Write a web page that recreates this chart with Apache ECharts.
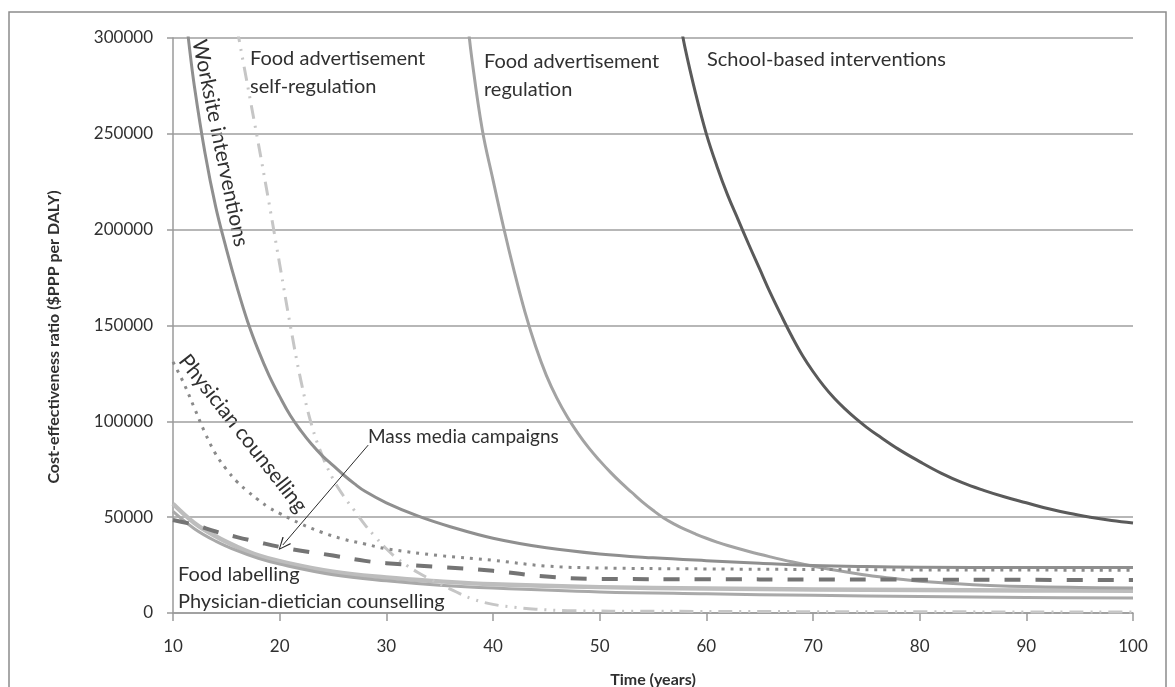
<!DOCTYPE html>
<html>
<head>
<meta charset="utf-8">
<title>Cost-effectiveness ratio over time</title>
<script src="https://cdn.jsdelivr.net/npm/echarts@6/dist/echarts.min.js"></script>
<style>
  html, body { margin: 0; padding: 0; background: #ffffff; }
  #chart { width: 1175px; height: 687px; }
</style>
</head>
<body>
<div id="chart"></div>
<script>
// Time horizon (years) and cost-effectiveness ratio ($PPP per DALY) for each intervention.
const worksiteYears = [11, 11.5, 12, 13, 14, 15, 16, 17, 18, 19, 20, 21, 22, 23, 24, 25, 26, 27, 28, 30, 33, 36, 40, 45, 50, 55, 60, 65, 70, 75, 80, 90, 100];
const worksiteRatio = [322000, 297000, 275000, 240000, 212000, 190000, 170000, 152000, 137000, 124000, 113000, 103000, 95000, 88000, 82000, 77000, 72000, 67500, 63500, 57500, 50500, 45000, 39000, 34000, 30800, 28800, 27300, 26000, 24800, 24200, 23900, 23700, 23700];

const selfRegYears = [16, 17, 18, 19, 20, 21, 22, 23, 24, 25, 26, 27, 28, 29, 30, 31, 32, 33, 34, 36, 38, 40, 42, 44, 47, 55, 70, 100];
const selfRegRatio = [305000, 275000, 245000, 214000, 182000, 150000, 121000, 98000, 82000, 70000, 61000, 53500, 46000, 39500, 33500, 28500, 24500, 21000, 18000, 12500, 7500, 4500, 3000, 2000, 1200, 900, 700, 500];

const adRegYears = [37.6, 38, 39, 40, 41, 42, 43, 44, 45, 46, 47, 48, 49, 50, 51, 52, 53, 54, 55, 56, 57, 58, 59, 60, 61, 62, 64, 66, 68, 70, 72, 74, 76, 78, 80, 85, 90, 95, 100];
const adRegRatio = [310000, 290000, 252000, 226000, 201000, 178000, 157000, 139000, 124000, 112000, 102000, 93500, 86000, 79500, 73500, 68000, 63000, 58000, 53600, 49600, 46400, 43600, 41200, 39000, 37000, 35200, 32100, 29300, 26700, 24400, 22400, 20600, 19000, 17700, 16600, 14800, 13800, 13300, 13000];

const schoolYears = [57.5, 58, 59, 60, 61, 62, 63, 64, 65, 66, 67, 68, 69, 70, 71, 72, 73, 74, 75, 76, 78, 80, 82, 84, 86, 88, 90, 92, 94, 96, 98, 100];
const schoolRatio = [310000, 295000, 271000, 250000, 233000, 218000, 205000, 192000, 179500, 167000, 155500, 144500, 134500, 126000, 118500, 112000, 106500, 101500, 97000, 93000, 85500, 79000, 73000, 68000, 64000, 60500, 57500, 54500, 52000, 50000, 48300, 47000];

const counsellingYears = [10, 11, 12, 13, 14, 15, 16, 17, 18, 19, 20, 22, 24, 26, 28, 30, 35, 40, 45, 50, 60, 70, 80, 90, 100];
const counsellingRatio = [131000, 120000, 107000, 94000, 83000, 75000, 68500, 63500, 59000, 55000, 52000, 46500, 42000, 38500, 36000, 33500, 30000, 27500, 24500, 23500, 23000, 22700, 22500, 22400, 22300];

const massMediaYears = [10, 12, 14, 16, 18, 20, 22, 25, 28, 30, 35, 40, 45, 50, 60, 70, 80, 90, 100];
const massMediaRatio = [48500, 46000, 42500, 39600, 37000, 34500, 32500, 30000, 27200, 26000, 24000, 22000, 19000, 17800, 17600, 17500, 17400, 17300, 17200];

const labellingYears = [10, 12, 14, 16, 18, 20, 25, 30, 35, 40, 50, 60, 70, 80, 90, 100];
const labellingRatio = [57000, 47000, 40000, 34500, 30000, 27000, 21500, 18500, 16500, 15000, 13500, 12800, 12300, 12000, 11800, 11600];

const dieticianYears = [10, 12, 14, 16, 18, 20, 25, 30, 35, 40, 50, 60, 70, 80, 90, 100];
const dieticianRatio = [53000, 44000, 37500, 32500, 28500, 25500, 20000, 16800, 14500, 13000, 11000, 10000, 9200, 8600, 8100, 7800];

// Annotation arrow for the mass media curve: [years, ratio] at tail and head.
const arrowTail = [28.3, 87600];
const arrowHead = [20.3, 35500];

const pairs = (xs, ys) => xs.map((x, i) => [x, ys[i]]);

const FONT = 'Lato, "Open Sans", sans-serif';
const TEXT = '#303030';

function curve(name, years, ratios, color, width, type, extra) {
  return Object.assign({
    name: name,
    type: 'line',
    data: pairs(years, ratios),
    showSymbol: false,
    smooth: 0.4,
    clip: true,
    silent: true,
    lineStyle: { color: color, width: width, type: type, cap: 'butt', join: 'round' },
    itemStyle: { color: color }
  }, extra || {});
}

function label(text, x, y, size, rotationDeg) {
  return {
    type: 'text', silent: true, x: x, y: y,
    rotation: (rotationDeg || 0) * Math.PI / 180,
    style: { text: text, font: size + 'px ' + FONT, fill: TEXT, textAlign: 'left', textVerticalAlign: 'middle' }
  };
}

const chart = echarts.init(document.getElementById('chart'), null, { renderer: 'canvas' });

const option = {
  backgroundColor: '#ffffff',
  animation: false,
  grid: { left: 173, right: 42, top: 38, bottom: 74, containLabel: false, outerBoundsMode: 'none' },
  xAxis: {
    type: 'value',
    min: 10, max: 100, interval: 10,
    name: 'Time (years)',
    nameLocation: 'middle',
    nameGap: 59,
    nameTextStyle: { fontFamily: FONT, fontWeight: 'bold', fontSize: 16, color: TEXT },
    axisLine: { show: true, lineStyle: { color: '#9a9a9a', width: 1.5 } },
    axisTick: { show: true, length: 8, lineStyle: { color: '#9a9a9a', width: 1.5 } },
    axisLabel: { fontFamily: FONT, fontSize: 17, color: TEXT, margin: 25 },
    splitLine: { show: false }
  },
  yAxis: {
    type: 'value',
    min: 0, max: 300000, interval: 50000,
    axisLine: { show: true, lineStyle: { color: '#9a9a9a', width: 1.5 } },
    axisTick: { show: true, length: 6, lineStyle: { color: '#9a9a9a', width: 1.5 } },
    axisLabel: { fontFamily: FONT, fontSize: 17, color: TEXT, margin: 20, formatter: v => String(v) },
    splitLine: { show: true, lineStyle: { color: '#9f9f9f', width: 1.5 } }
  },
  series: [
    curve('Food labelling', labellingYears, labellingRatio, '#bdbdbd', 4.5, 'solid'),
    curve('Physician-dietician counselling', dieticianYears, dieticianRatio, '#a9a9a9', 3, 'solid'),
    curve('Food advertisement self-regulation', selfRegYears, selfRegRatio, '#c6c6c6', 3, [14, 7, 2, 7, 2, 7]),
    curve('Food advertisement regulation', adRegYears, adRegRatio, '#a3a3a3', 3, 'solid'),
    curve('Worksite interventions', worksiteYears, worksiteRatio, '#8f8f8f', 3, 'solid'),
    curve('Physician counselling', counsellingYears, counsellingRatio, '#8a8a8a', 3, [3, 6]),
    curve('Mass media campaigns', massMediaYears, massMediaRatio, '#747474', 4, [16, 15], {
      markLine: {
        silent: true,
        symbol: ['none', 'path://M5,0 L10,12 L9,12.8 L5,2.2 L1,12.8 L0,12 Z'],
        symbolSize: [11, 13],
        lineStyle: { color: '#2a2a2a', width: 1, type: 'solid' },
        label: { show: false },
        data: [[{ coord: arrowTail }, { coord: arrowHead }]]
      }
    }),
    curve('School-based interventions', schoolYears, schoolRatio, '#5a5a5a', 3, 'solid')
  ],
  graphic: [
    { type: 'rect', silent: true, shape: { x: 9, y: 12, width: 1157, height: 700 },
      style: { fill: 'none', stroke: '#8c8c8c', lineWidth: 1.5 } },
    // vertical axis title
    { type: 'text', silent: true, x: 54, y: 337, rotation: Math.PI / 2,
      style: { text: 'Cost-effectiveness ratio ($PPP per DALY)', font: 'bold 16px ' + FONT, fill: TEXT,
               textAlign: 'center', textVerticalAlign: 'middle' } },
    label('Food advertisement', 250, 59, 20),
    label('self-regulation', 250, 87, 20),
    label('Food advertisement', 484, 62, 20),
    label('regulation', 484, 90, 20),
    label('School-based interventions', 707, 60, 20),
    label('Mass media campaigns', 368, 437, 19),
    label('Food labelling', 178, 575, 20),
    label('Physician-dietician counselling', 178, 602, 20),
    label('Worksite interventions', 199, 40, 21, -78.4),
    label('Physician counselling', 183, 357, 21, -51.9)
  ]
};

chart.setOption(option);
</script>
</body>
</html>
